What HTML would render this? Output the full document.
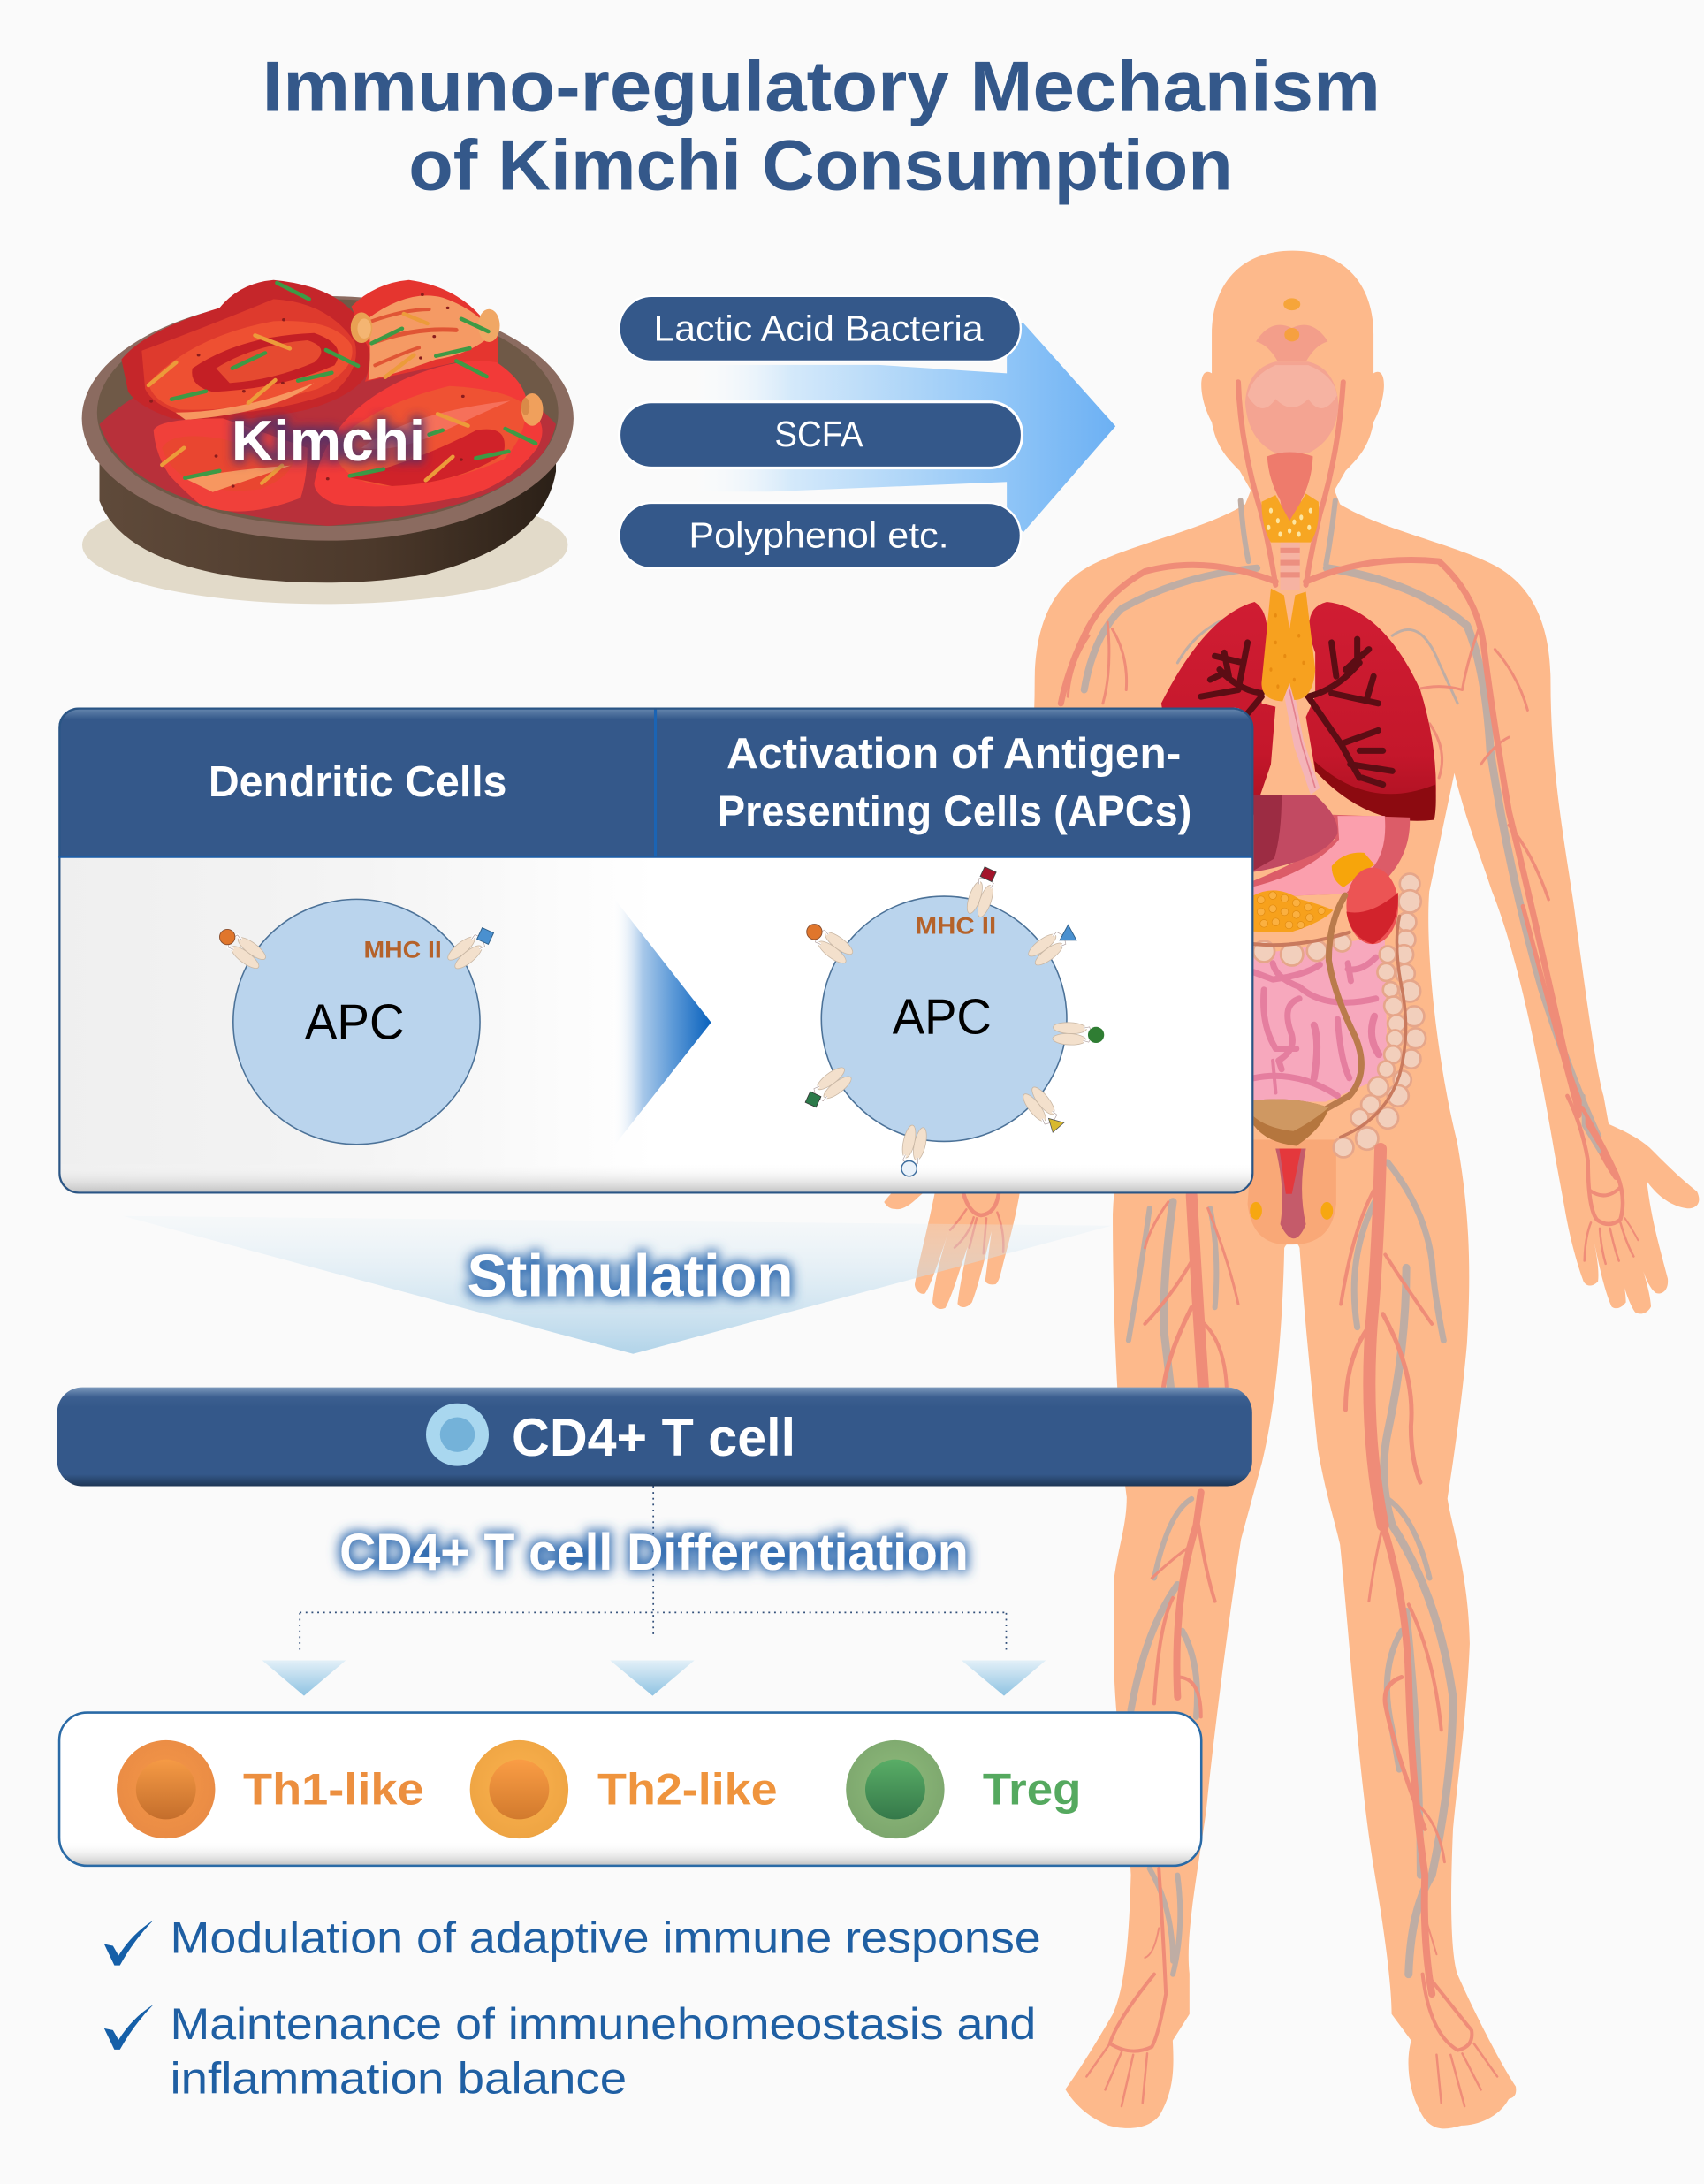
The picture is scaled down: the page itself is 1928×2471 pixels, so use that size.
<!DOCTYPE html>
<html><head><meta charset="utf-8"><title>Immuno-regulatory Mechanism of Kimchi Consumption</title>
<style>
html,body{margin:0;padding:0;background:#fafafa}
svg{display:block;width:1928px;height:2471px}
text{font-family:"Liberation Sans",sans-serif}
.b{font-weight:700}
.v path,.v line,.s path{fill:none;vector-effect:non-scaling-stroke;stroke-linecap:round;stroke-linejoin:round}
.r path{stroke:#ef8c78}.g path{stroke:#bfada4}
</style></head><body>
<svg xmlns="http://www.w3.org/2000/svg" viewBox="0 0 1222 1568" preserveAspectRatio="none">
<defs>
<linearGradient id="ar" x1="0" x2="1" y1="0" y2="0"><stop offset="0" stop-color="#fff" stop-opacity="0"/><stop offset=".25" stop-color="#d4e9fa"/><stop offset=".75" stop-color="#8fc5f7"/><stop offset="1" stop-color="#6cb0f3"/></linearGradient>
<linearGradient id="ar2" x1="0" x2="1" y1="0" y2="0"><stop offset="0" stop-color="#fff" stop-opacity="0"/><stop offset=".3" stop-color="#a9c9ea"/><stop offset=".6" stop-color="#5f9bd8"/><stop offset="1" stop-color="#0a62bd"/></linearGradient>
<linearGradient id="fan" x1="0" x2="0" y1="0" y2="1"><stop offset="0" stop-color="#e4f0f7" stop-opacity=".25"/><stop offset="1" stop-color="#a5cde6"/></linearGradient>
<linearGradient id="tri" x1="0" x2="0" y1="0" y2="1"><stop offset="0" stop-color="#e3f0f8"/><stop offset="1" stop-color="#8fc3e2"/></linearGradient>
<linearGradient id="lg" x1="0" x2="1" y1="0" y2="0"><stop offset="0" stop-color="#efefef"/><stop offset=".5" stop-color="#f4f4f4"/><stop offset="1" stop-color="#fff"/></linearGradient>
<linearGradient id="bar" x1="0" x2="0" y1="0" y2="1"><stop offset="0" stop-color="#7c99bc"/><stop offset=".1" stop-color="#3c5f90"/><stop offset=".2" stop-color="#34588a"/><stop offset=".88" stop-color="#34588a"/><stop offset="1" stop-color="#1e3655"/></linearGradient>
<linearGradient id="hd" x1="0" x2="0" y1="0" y2="1"><stop offset="0" stop-color="#6a8ab0"/><stop offset=".08" stop-color="#34588a"/><stop offset="1" stop-color="#34588a"/></linearGradient>
<linearGradient id="bot" x1="0" x2="0" y1="0" y2="1"><stop offset="0" stop-color="#fff" stop-opacity="0"/><stop offset="1" stop-color="#bdbdbd"/></linearGradient>
<linearGradient id="bowl" x1="0" x2="1" y1="0" y2="0"><stop offset="0" stop-color="#5f4a3a"/><stop offset=".6" stop-color="#4c392b"/><stop offset="1" stop-color="#2b2017"/></linearGradient>
<linearGradient id="lung" x1="0" x2="0" y1="0" y2="1"><stop offset="0" stop-color="#d01d33"/><stop offset=".7" stop-color="#c4172b"/><stop offset="1" stop-color="#a91020"/></linearGradient>
<radialGradient id="c1" cx=".5" cy=".45" r=".6"><stop offset="0" stop-color="#f59746"/><stop offset="1" stop-color="#e88a45"/></radialGradient>
<radialGradient id="c2" cx=".5" cy=".45" r=".6"><stop offset="0" stop-color="#fbb24e"/><stop offset="1" stop-color="#eda342"/></radialGradient>
<radialGradient id="c3" cx=".5" cy=".45" r=".6"><stop offset="0" stop-color="#8fbb7c"/><stop offset="1" stop-color="#7ba56c"/></radialGradient>
<linearGradient id="i1" x1="0" x2="0" y1="0" y2="1"><stop offset="0" stop-color="#f59a45"/><stop offset="1" stop-color="#c46e2c"/></linearGradient>
<linearGradient id="i2" x1="0" x2="0" y1="0" y2="1"><stop offset="0" stop-color="#fa9d45"/><stop offset="1" stop-color="#d27a2d"/></linearGradient>
<linearGradient id="i3" x1="0" x2="0" y1="0" y2="1"><stop offset="0" stop-color="#59ad66"/><stop offset="1" stop-color="#35794a"/></linearGradient>
<filter id="gk" x="-20%" y="-40%" width="140%" height="180%"><feMorphology in="SourceAlpha" operator="dilate" radius="2" result="m"/><feGaussianBlur in="m" stdDeviation="3.5" result="bl"/><feFlood flood-color="#43306e" flood-opacity=".85"/><feComposite in2="bl" operator="in" result="s"/><feMerge><feMergeNode in="s"/><feMergeNode in="SourceGraphic"/></feMerge></filter>
<filter id="gb" x="-10%" y="-50%" width="120%" height="200%"><feMorphology in="SourceAlpha" operator="dilate" radius="2" result="m"/><feGaussianBlur in="m" stdDeviation="4" result="bl"/><feFlood flood-color="#2f6bb0" flood-opacity="1"/><feComposite in2="bl" operator="in" result="s"/><feMerge><feMergeNode in="s"/><feMergeNode in="SourceGraphic"/></feMerge></filter>
<clipPath id="cb"><rect x="42" y="508" width="856" height="349" rx="14"/></clipPath>
<clipPath id="cl"><rect x="42.5" y="1229.5" width="819" height="110" rx="20"/></clipPath>
<g id="rcp"><ellipse cx="-4" cy="19" rx="4" ry="12" fill="#f3e0cc" stroke="#c9b7a4" stroke-width=".5"/><ellipse cx="4" cy="19" rx="4" ry="12" fill="#f3e0cc" stroke="#c9b7a4" stroke-width=".5"/><path d="M-4.5,9 L-5.5,5 L-1,3 M4.5,9 L5.5,5 L1,3" fill="none" stroke="#fff" stroke-width="2"/><path d="M-4.5,9 L-5.5,5 L-1,3 M4.5,9 L5.5,5 L1,3" fill="none" stroke="#a99" stroke-width=".4"/></g>
</defs>
<rect width="1222" height="1568" fill="#fafafa"/>

<!-- BODY -->
<path fill="#fdb98b" d="M927,180 C965,180 985,205 985,240 L985,268 C995,262 995,285 985,303 C982,320 975,328 965,338 L957,352 L961,362 C990,380 1040,390 1070,405 C1100,420 1112,450 1112,490 C1112,560 1125,620 1130,660 C1138,720 1145,770 1150,787 L1153.6,807 C1165,812 1175,817 1183,824 C1195,836 1205,846 1217,855.5 C1221,864 1216,868 1210,867.6 C1198,866 1188,858 1181,848 C1184,875 1190,895 1196,918 C1197,928 1190,930 1187,928 C1180,922 1176,905 1171.5,890 C1178,912 1183,925 1184,938 C1181,944 1175,944 1172.5,942 C1166,932 1162,915 1159,897 C1163,915 1166,925 1166,935 C1162,940 1158,940 1155.7,938 C1150,925 1146,905 1142,886 C1145,900 1147,912 1146,920 C1142,924 1138,924 1135.6,920 C1130,905 1125,885 1122,867 L1115,829 C1105,770 1090,690 1070,640 C1060,610 1050,585 1043,555 L1025,640 C1022,680 1030,760 1045,820 C1052,860 1056,900 1052,965 C1048,1010 1042,1050 1038,1076 C1042,1100 1053,1130 1054,1180 C1052,1230 1045,1280 1042,1313 C1040,1360 1040,1400 1045,1417 C1055,1440 1075,1480 1087,1498 C1088,1505 1085,1506 1082,1507 C1075,1520 1060,1526 1048,1526 C1035,1530 1025,1530 1018,1515 C1010,1500 1008,1480 1012,1465 L998,1446 C998,1420 990,1370 985,1340 C975,1280 968,1180 961,1109 C958,1095 950,1070 945,1040 C940,990 935,940 932,896 C930,890 924,890 921,896 C920,950 915,1010 905,1050 L890,1105 C880,1170 870,1250 865,1300 C858,1350 850,1390 853,1417 L853,1446 L841,1465 C842,1485 842,1500 832,1518 C825,1528 810,1530 795,1526 C780,1520 770,1510 764,1500 C775,1485 790,1460 798,1446 C808,1425 810,1380 811,1346 C808,1290 800,1240 799,1200 L799,1133 C802,1110 808,1095 808,1075 C802,1030 798,950 798,872 C800,810 825,760 830,680 L811,555 C804,585 794,610 784,640 C764,690 749,770 736,825 C733,845 732,852 731,858 C728,875 724,890 720.5,903 C718,912 717,920 714,922 C709,923 706,921 706.7,918 L711,884 C706,905 701,925 697,935 C693,940 688,939 686.7,936 C688,925 691,910 694,895 C688,912 683,930 678,939 C674,941 670,939 668.7,935 C670,920 675,900 680.3,884 C675,900 668,922 663.4,928.6 C660,930 656,926 656,922 C660,900 666,880 672,848 L659,859 C652,866 646,869 642,868 C638,868 636,866 634,863 C642,852 660,838 671,826 L700,807 C709,770 716,720 724,660 C729,620 742,560 742,490 C742,450 754,420 784,405 C814,390 864,380 893,362 L897,352 L889,338 C879,328 872,320 869,303 C859,285 859,262 869,268 L869,240 C869,205 889,180 927,180 Z"/>

<!-- upper body organs & vessels -->
<g transform="matrix(.3347,0,0,.4857,697.2,165)">
<g class="v g" stroke-width="6"><path d="M575,400 Q580,450 592,490"/><path d="M778,400 Q770,450 758,495"/><path d="M760,500 Q950,520 1060,585 Q1100,650 1110,770 Q1150,950 1220,1120 Q1280,1250 1340,1340" stroke-width="9"/><path d="M610,500 Q450,510 320,560 Q260,600 240,680" stroke-width="8"/><path d="M900,600 Q960,570 1000,640 L1040,700" stroke-width="3"/><path d="M440,640 Q480,590 560,570" stroke-width="3"/></g>
<g class="v r"><path d="M570,225 Q575,320 620,420 Q640,480 650,525" stroke-width="6"/><path d="M795,225 Q785,330 745,420 Q725,480 715,525" stroke-width="6"/><path d="M650,520 Q500,480 370,505 Q280,540 240,600 Q205,650 190,700" stroke-width="7"/><path d="M715,520 Q850,480 1000,490 Q1080,540 1095,610 Q1115,720 1150,860 Q1200,1000 1280,1250 Q1330,1350 1380,1400" stroke-width="7"/><path d="M290,580 Q300,650 280,700" stroke-width="3"/><path d="M250,600 Q210,640 205,690" stroke-width="3"/><path d="M300,590 Q335,630 330,680" stroke-width="3"/><path d="M1085,590 Q1060,640 1050,680 Q1000,670 950,680" stroke-width="3"/><path d="M1120,620 Q1170,660 1190,710" stroke-width="3"/><path d="M1090,790 Q1120,760 1150,750" stroke-width="3"/><path d="M1150,880 Q1200,920 1235,990" stroke-width="3.5"/><path d="M1180,1000 Q1230,1130 1300,1310" stroke-width="5"/><path d="M980,730 Q1020,770 1000,810" stroke-width="3"/></g>
<ellipse cx="685" cy="110" rx="18" ry="9" fill="#f6a53a"/>
<path d="M608,165 Q640,130 685,145 Q730,130 762,165 Q735,170 715,195 L655,195 Q635,170 608,165Z" fill="#f39e8a"/>
<ellipse cx="685" cy="155" rx="16" ry="10" fill="#f6a040"/>
<path d="M585,255 Q590,205 650,195 L720,195 Q780,205 785,260 Q780,310 720,330 L650,330 Q590,310 585,255Z" fill="#f4a492"/>
<path d="M590,245 Q620,280 650,250 Q685,275 720,250 Q750,280 782,245 Q775,215 720,200 L650,200 Q600,215 590,245Z" fill="#f6b3a2"/>
<path d="M632,335 Q680,322 730,335 Q728,370 705,400 L695,440 L670,440 L660,400 Q635,370 632,335Z" fill="#ee7b6c"/>
<rect x="660" y="462" width="42" height="70" fill="#f6b3a2"/>
<g fill="#ec8f80"><rect x="660" y="470" width="42" height="8"/><rect x="660" y="488" width="42" height="8"/><rect x="660" y="506" width="42" height="8"/></g>
<path d="M620,402 L650,392 L680,430 L715,390 L742,402 Q746,440 725,462 L640,462 Q620,440 620,402Z" fill="#f7a622"/>
<g fill="#fde5a0"><circle cx="640" cy="415" r="4"/><circle cx="655" cy="430" r="4"/><circle cx="635" cy="440" r="4"/><circle cx="660" cy="450" r="4"/><circle cx="680" cy="445" r="4"/><circle cx="700" cy="450" r="4"/><circle cx="705" cy="425" r="4"/><circle cx="725" cy="415" r="4"/><circle cx="722" cy="440" r="4"/><circle cx="690" cy="432" r="4"/></g>
<path d="M675,670 L700,760 L735,830" fill="none" stroke="#f4b4b8" stroke-width="22"/>
<path d="M680,680 L706,760 L735,825" fill="none" stroke="#e3808e" stroke-width="3"/>
<path d="M605,550 Q640,565 630,620 L620,700 L650,705 L640,790 L600,870 L420,760 L405,700 Q500,570 605,550Z" fill="url(#lung)"/>
<path d="M760,550 Q700,560 735,625 L735,690 L715,720 L735,800 Q850,880 990,872 Q1005,780 960,680 Q880,560 760,550Z" fill="url(#lung)"/>
<path d="M733,785 Q850,860 992,820 Q996,850 990,872 Q850,885 735,800Z" fill="#8c0a10"/>
<g class="s" stroke="#5c0d14"><path d="M620,685 Q570,680 530,650 M570,680 L490,690 M580,640 L520,630 M570,680 L590,610 M620,690 L560,740 M580,725 L580,770 M540,655 L510,665 M550,660 L540,625" stroke-width="7"/><path d="M720,690 Q780,680 830,640 M770,685 L870,700 M780,660 L770,610 M800,650 L850,620 M720,690 L790,760 L830,810 M790,760 L870,740 M810,790 L900,800 M835,810 L880,820 M825,640 L825,605 M845,695 L860,660 M830,770 L880,770" stroke-width="7"/></g>
<path d="M640,530 L668,540 L680,590 L692,540 L715,535 L735,650 Q730,695 690,695 L680,670 L665,697 Q620,695 620,670Z" fill="#f7a11f"/>
<g fill="#e88b10"><circle cx="650" cy="570" r="3"/><circle cx="650" cy="610" r="3"/><circle cx="640" cy="650" r="3"/><circle cx="670" cy="630" r="3"/><circle cx="700" cy="600" r="3"/><circle cx="710" cy="640" r="3"/><circle cx="690" cy="665" r="3"/><circle cx="655" cy="675" r="3"/></g>
<path d="M590,1440 Q600,1502 680,1500 Q770,1502 780,1440 L780,1345 L600,1345Z" fill="#f9a877"/>
<path d="M650,1358 L715,1358 Q698,1420 715,1470 Q690,1512 660,1470 Q672,1420 650,1358Z" fill="#c55b6a"/>
<path d="M658,1358 L705,1358 L685,1425 L672,1425Z" fill="#e4383c"/>
<circle cx="608" cy="1450" r="13" fill="#f7a711"/><circle cx="760" cy="1450" r="13" fill="#f7a711"/>
</g>

<!-- abdomen -->
<g transform="matrix(.2113,0,0,.2115,887.4,571)">
<path d="M55,290 Q200,230 330,150 L300,65 L585,75 Q590,200 500,290 L365,335 L55,345Z" fill="#dc5c68"/>
<path d="M55,310 Q250,260 345,150 L340,70 L500,70 Q510,190 455,250 L365,335 L55,345Z" fill="#fb9fad"/>
<path d="M55,260 L55,0 L265,0 Q345,70 340,130 Q310,190 200,225 Q120,250 55,260Z" fill="#c24a62"/>
<path d="M55,0 L150,0 Q150,130 125,215 L55,255Z" fill="#9c2c43"/>
<path d="M55,540 L500,480 L510,950 L300,1040 L55,1040Z" fill="#f7a8bd"/>
<g class="s" stroke="#e57e9f"><path d="M120,570 Q130,620 210,650 Q300,730 470,690" stroke-width="7"/><path d="M90,660 Q80,780 130,860 L200,860" stroke-width="7"/><path d="M210,690 Q150,710 180,800 Q205,860 140,900 L150,930" stroke-width="7"/><path d="M260,780 Q280,840 260,960" stroke-width="8"/><path d="M55,960 Q200,930 340,1020" stroke-width="7"/><path d="M375,570 L385,630 M375,590 Q420,600 470,550" stroke-width="7"/><path d="M465,750 Q440,820 480,880" stroke-width="8"/><path d="M340,760 Q350,900 380,960" stroke-width="7"/><path d="M55,600 L120,625 Q230,610 280,575" stroke-width="7"/><path d="M120,900 L130,1010" stroke-width="4"/></g>
<g fill="#f2cfbc" stroke="#e6a68a" stroke-width="8"><circle cx="90" cy="530" r="36"/><circle cx="185" cy="540" r="38"/><circle cx="270" cy="528" r="34"/><circle cx="355" cy="500" r="30"/>
<circle cx="585" cy="300" r="34"/><circle cx="585" cy="360" r="38"/><circle cx="575" cy="430" r="32"/><circle cx="572" cy="490" r="32"/><circle cx="565" cy="540" r="32"/><circle cx="510" cy="540" r="28"/><circle cx="505" cy="600" r="30"/><circle cx="570" cy="605" r="32"/><circle cx="520" cy="660" r="26"/><circle cx="585" cy="665" r="36"/><circle cx="530" cy="715" r="32"/><circle cx="600" cy="750" r="34"/><circle cx="540" cy="775" r="30"/><circle cx="605" cy="825" r="34"/><circle cx="535" cy="825" r="28"/><circle cx="528" cy="880" r="30"/><circle cx="590" cy="895" r="32"/><circle cx="505" cy="930" r="28"/><circle cx="560" cy="965" r="30"/><circle cx="545" cy="1020" r="36"/><circle cx="478" cy="990" r="34"/><circle cx="452" cy="1050" r="32"/><circle cx="510" cy="1095" r="36"/><circle cx="415" cy="1095" r="30"/><circle cx="440" cy="1165" r="38"/><circle cx="360" cy="1195" r="34"/></g>
<path d="M55,340 Q130,300 210,352 Q280,370 325,390 Q290,430 180,465 L55,462Z" fill="#f7a11c"/>
<g fill="#fbb040" stroke="#e08a10" stroke-width="2"><circle cx="80" cy="355" r="13"/><circle cx="120" cy="340" r="13"/><circle cx="160" cy="350" r="13"/><circle cx="200" cy="365" r="13"/><circle cx="240" cy="380" r="13"/><circle cx="285" cy="392" r="12"/><circle cx="80" cy="395" r="13"/><circle cx="120" cy="385" r="13"/><circle cx="160" cy="395" r="13"/><circle cx="200" cy="405" r="13"/><circle cx="245" cy="415" r="13"/><circle cx="90" cy="435" r="13"/><circle cx="130" cy="430" r="13"/><circle cx="175" cy="440" r="13"/><circle cx="215" cy="440" r="12"/></g>
<g class="s"><path d="M55,505 Q200,520 380,465" stroke="#c97a5e" stroke-width="4"/></g>
<path d="M320,240 Q360,190 430,195 L465,235 L360,312 Q320,290 320,240Z" fill="#f7a50b"/>
<ellipse cx="458" cy="375" rx="88" ry="130" fill="#ec5454"/>
<path d="M370,395 Q450,412 545,330 Q552,450 460,505 Q380,480 370,395Z" fill="#d2232c"/>
<g class="s"><path d="M365,340 Q310,430 310,560 Q330,680 400,820 Q450,940 380,1020 L300,1065" stroke="#ba7b4c" stroke-width="7"/><path d="M550,410 Q530,500 555,640 Q590,800 550,950 Q500,1100 350,1160" stroke="#c97a5e" stroke-width="3.5"/></g>
<path d="M55,1035 Q200,1020 310,1060 Q290,1130 200,1190 Q100,1180 55,1120Z" fill="#b5763e"/>
<path d="M55,1035 Q200,1020 310,1060 Q250,1110 190,1140 Q100,1130 55,1090Z" fill="#cf9862"/>
</g>

<!-- lower body vessels -->
<g transform="matrix(.3347,0,0,.474,697.2,824.9)">
<g class="v g"><path d="M430,80 Q410,180 410,270 Q420,330 425,360" stroke-width="9"/><path d="M380,90 Q360,190 335,290" stroke-width="6"/><path d="M510,90 Q530,160 520,240" stroke-width="6"/><path d="M470,530 Q420,550 390,650" stroke-width="6"/><path d="M440,660 Q370,730 340,850" stroke-width="8"/><path d="M450,730 Q490,780 480,860" stroke-width="7"/><path d="M380,1090 Q430,1150 430,1230" stroke-width="6"/><path d="M440,1100 Q455,1180 430,1250" stroke-width="6"/><path d="M930,180 Q930,300 890,430 Q870,500 900,570 Q1000,680 1030,830 Q1030,950 985,1100 Q940,1150 935,1250" stroke-width="9"/><path d="M870,70 Q800,160 825,270" stroke-width="7"/><path d="M890,20 Q970,90 985,170 Q990,220 1010,290" stroke-width="7"/><path d="M890,530 Q950,560 980,650" stroke-width="6"/><path d="M930,700 Q960,900 960,1100" stroke-width="8"/><path d="M920,730 Q870,790 900,880 L915,940" stroke-width="7"/></g>
<g class="v r"><path d="M470,70 Q480,200 495,360" stroke-width="13"/><path d="M490,520 L480,570 Q430,680 440,830" stroke-width="8"/><path d="M430,680 Q400,720 390,840" stroke-width="4"/><path d="M440,800 Q490,800 490,860" stroke-width="4"/><path d="M485,570 Q500,640 520,685" stroke-width="4"/><path d="M470,170 Q430,220 370,265" stroke-width="4"/><path d="M470,240 Q420,310 410,360" stroke-width="5"/><path d="M490,260 Q540,290 545,360" stroke-width="4"/><path d="M470,600 Q430,620 385,650" stroke-width="3"/><path d="M505,90 Q550,170 570,235" stroke-width="3"/><path d="M420,80 Q380,120 370,150" stroke-width="3"/><path d="M400,1090 Q410,1200 415,1280 Q400,1340 385,1360 Q340,1375 295,1355 Q310,1320 390,1250" stroke-width="4"/><path d="M370,1225 Q390,1220 400,1180" stroke-width="2"/><g stroke-width="2.5"><path d="M295,1355 L245,1405"/><path d="M320,1368 L285,1425"/><path d="M345,1372 L320,1450"/><path d="M375,1370 L365,1445"/></g>
<path d="M875,0 Q870,150 855,270 Q840,430 880,570" stroke-width="14"/><path d="M880,570 Q930,680 935,800 Q940,950 970,1100 Q965,1200 985,1280" stroke-width="8"/><path d="M880,40 Q820,100 790,235" stroke-width="4"/><path d="M885,160 Q930,210 985,265" stroke-width="4"/><path d="M860,260 Q800,310 800,395" stroke-width="5"/><path d="M880,250 Q950,340 940,420 Q940,470 960,505" stroke-width="5"/><path d="M880,570 Q860,630 850,685" stroke-width="3"/><path d="M935,690 Q990,770 1005,880" stroke-width="4"/><path d="M920,800 Q880,810 885,840 Q900,900 970,1030" stroke-width="5"/><path d="M950,990 Q1000,1020 1012,1080" stroke-width="3"/><path d="M965,1250 Q980,1340 1040,1365 Q1075,1360 1070,1335 Q1030,1300 985,1260" stroke-width="4"/><path d="M965,1150 L995,1220" stroke-width="2"/><g stroke-width="2.5"><path d="M1075,1355 L1125,1405"/><path d="M1050,1370 L1090,1425"/><path d="M1025,1372 L1055,1450"/><path d="M995,1372 L1005,1445"/></g></g>
</g>

<!-- hand vessels -->
<g transform="matrix(.2113,0,0,.2115,1109.2,786.8)" class="v"><g class="g"><path d="M125,0 L125,100 L180,190" stroke-width="4"/></g><g class="r"><path d="M70,0 Q120,100 140,220 Q140,380 170,420 Q210,450 250,420 Q270,350 240,270 Q200,180 120,40" stroke-width="4.5"/><path d="M145,320 Q200,360 250,310" stroke-width="4"/><path d="M150,430 Q130,480 128,560" stroke-width="2.5"/><path d="M180,450 Q185,520 200,570" stroke-width="2.5"/><path d="M215,450 Q230,520 245,560" stroke-width="2.5"/><path d="M250,430 Q270,500 295,545" stroke-width="2.5"/><path d="M265,415 Q290,450 310,490" stroke-width="2"/></g></g>
<g transform="matrix(.2113,0,0,.2115,627.5,850.3)" class="v r"><path d="M300,30 Q320,100 360,105 Q410,100 420,30" stroke-width="4.5"/><path d="M310,85 Q280,130 255,155" stroke-width="2.5"/><path d="M335,112 Q320,170 270,215" stroke-width="2.5"/><path d="M345,115 L320,215" stroke-width="2.5"/><path d="M378,115 L368,235" stroke-width="2.5"/><path d="M415,95 Q440,160 435,230" stroke-width="2.5"/></g>

<!-- TITLE -->
<text class="b" x="188" y="79.5" font-size="51" fill="#34588a" textLength="802" lengthAdjust="spacingAndGlyphs">Immuno-regulatory Mechanism</text>
<text class="b" x="293" y="136" font-size="51" fill="#34588a" textLength="591" lengthAdjust="spacingAndGlyphs">of Kimchi Consumption</text>

<!-- KIMCHI -->
<g transform="matrix(.2425,0,0,.2115,50.7,190.4)">
<ellipse cx="752" cy="950" rx="718" ry="200" fill="#e2dac9"/>
<path d="M85,640 L85,800 Q150,1000 500,1060 Q800,1100 1050,1050 Q1400,950 1435,700 L1435,640Z" fill="url(#bowl)"/>
<ellipse cx="760" cy="520" rx="727" ry="415" fill="#8b6b60"/>
<ellipse cx="760" cy="500" rx="682" ry="385" fill="#6f5947"/>
<path d="M85,540 Q300,300 760,280 Q1250,300 1435,540 Q1380,830 760,885 Q170,830 85,540Z" fill="#b8303a"/>
<path d="M150,320 Q220,220 440,145 Q500,60 600,50 Q780,70 850,180 Q900,270 880,360 Q850,440 700,490 Q500,540 300,520 Q200,480 170,430Z" fill="#c5262a"/>
<path d="M210,290 Q400,210 600,115 Q760,125 840,260 Q860,350 780,430 Q600,510 330,510 Q240,470 220,420Z" fill="#de3a2d"/>
<path d="M230,400 Q360,240 600,190 Q780,180 830,270 Q850,350 730,420 Q500,500 320,490 Q240,460 230,400Z" fill="#ee5032"/>
<path d="M360,350 Q500,240 720,230 Q820,270 780,340 Q620,420 420,430 Q350,410 360,350Z" fill="#c41f25"/>
<path d="M430,350 Q540,270 700,255 Q770,280 720,330 Q600,390 470,400Z" fill="#e64a30"/>
<path d="M310,500 Q500,500 720,400 Q610,500 340,525Z" fill="#f79760"/>
<path d="M830,140 Q900,60 1000,50 Q1130,70 1210,170 L1265,230 L1265,340 L1140,330 L870,395 Q900,300 870,260Z" fill="#e5352f"/>
<path d="M880,180 Q1000,80 1100,110 Q1200,150 1250,230 Q1190,300 1080,320 Q960,370 880,390 Q890,300 880,180Z" fill="#f59a64"/>
<g class="s" stroke="#e05535"><path d="M890,190 Q990,150 1060,150" stroke-width="4"/><path d="M900,260 Q1020,210 1140,220" stroke-width="5"/><path d="M900,340 Q1000,290 1030,280" stroke-width="4"/></g>
<path d="M720,740 Q760,500 1000,380 Q1150,310 1260,330 Q1350,400 1350,480 Q1420,540 1380,620 Q1300,740 1180,780 Q950,840 780,810 Q720,780 720,740Z" fill="#f23a38"/>
<path d="M770,610 Q900,470 1120,410 Q1280,420 1340,470 Q1360,560 1280,660 Q1120,740 960,750 Q800,750 770,610Z" fill="#ef5233"/>
<path d="M820,720 Q1000,680 1200,560 Q1300,540 1280,640 Q1150,740 950,750Z" fill="#d02229"/>
<path d="M860,620 Q1000,500 1300,460 Q1200,510 1090,570 Q950,640 860,620Z" fill="#f6705a"/>
<path d="M245,560 Q260,520 450,520 L700,620 Q700,720 680,790 Q500,870 380,810 Q320,750 290,710 Q250,640 245,560Z" fill="#f0403a"/>
<path d="M270,620 Q300,560 450,590 L660,660 Q650,720 560,760 Q420,780 340,720 Q290,690 270,620Z" fill="#e94630"/>
<path d="M340,725 Q500,690 650,680 Q520,730 420,770Z" fill="#f79760"/>
<ellipse cx="860" cy="212" rx="32" ry="52" fill="#e9a153"/><ellipse cx="868" cy="215" rx="20" ry="34" fill="#f4b572"/>
<ellipse cx="1237" cy="205" rx="32" ry="56" fill="#f0a765"/>
<ellipse cx="1365" cy="490" rx="32" ry="55" fill="#f0a05c"/><ellipse cx="1345" cy="480" rx="12" ry="30" fill="#d98a48"/>
<g class="s"><g stroke="#ec9b3a" stroke-width="4.5"><path d="M545,238 L648,283"/><path d="M230,408 L312,330"/><path d="M525,468 L605,390"/><path d="M930,380 L1015,305"/><path d="M985,165 L1055,198"/><path d="M1085,505 L1175,545"/><path d="M270,678 L335,620"/><path d="M565,740 L625,680"/><path d="M1050,730 L1130,650"/></g>
<g stroke="#3d9a45" stroke-width="4.5"><path d="M610,60 L705,115"/><path d="M890,265 L980,215"/><path d="M478,350 L575,298"/><path d="M755,288 L850,342"/><path d="M672,392 L772,365"/><path d="M298,455 L400,428"/><path d="M1080,308 L1180,282"/><path d="M1140,325 L1230,378"/><path d="M1155,182 L1235,225"/><path d="M1285,555 L1375,605"/><path d="M1198,655 L1295,632"/><path d="M338,722 L440,698"/><path d="M825,715 L925,692"/><path d="M1060,575 L1100,560"/></g></g>
<g fill="#8a1c1c"><circle cx="630" cy="185" r="5"/><circle cx="378" cy="305" r="5"/><circle cx="238" cy="462" r="5"/><circle cx="512" cy="428" r="5"/><circle cx="627" cy="400" r="5"/><circle cx="1040" cy="100" r="5"/><circle cx="1115" cy="145" r="5"/><circle cx="1075" cy="242" r="5"/><circle cx="1160" cy="445" r="5"/><circle cx="1035" cy="315" r="5"/><circle cx="760" cy="725" r="5"/><circle cx="480" cy="750" r="5"/><circle cx="430" cy="648" r="5"/><circle cx="1155" cy="660" r="5"/></g>
</g>
<text class="b" x="166" y="330.5" font-size="41" fill="#fff" textLength="139" lengthAdjust="spacingAndGlyphs" filter="url(#gk)">Kimchi</text>

<!-- Arrow + pills -->
<path d="M490,262 L630,262 L722,268 L722,232 L734,232 L800,306 L734,382 L722,372 L722,346 L552,353 L490,353Z" fill="url(#ar)"/>
<rect x="444" y="212.5" width="288" height="47" rx="23.5" fill="#34588a" stroke="#fff" stroke-width="1.5"/>
<rect x="444" y="288.5" width="289" height="47.5" rx="23.5" fill="#34588a" stroke="#fff" stroke-width="2"/>
<rect x="444" y="361" width="288" height="47" rx="23.5" fill="#34588a" stroke="#fff" stroke-width="1.5"/>
<text x="468.7" y="244.5" font-size="26" fill="#fff" textLength="236.5" lengthAdjust="spacingAndGlyphs">Lactic Acid Bacteria</text>
<text x="555.5" y="320.5" font-size="26" fill="#fff" textLength="63.5" lengthAdjust="spacingAndGlyphs">SCFA</text>
<text x="494" y="393" font-size="26" fill="#fff" textLength="186.5" lengthAdjust="spacingAndGlyphs">Polyphenol etc.</text>

<!-- Main table -->
<g clip-path="url(#cb)">
<rect x="42" y="508" width="856" height="349" fill="#fff"/>
<rect x="42" y="615" width="428" height="242" fill="url(#lg)"/>
<rect x="42" y="835" width="856" height="22" fill="url(#bot)"/>
<rect x="42" y="508" width="856" height="107.5" fill="url(#hd)"/>
<rect x="469" y="508" width="2" height="107.5" fill="#1b64b4"/>
</g>
<rect x="42.7" y="508.7" width="855.6" height="347.6" rx="14" fill="none" stroke="#2a5585" stroke-width="1.4"/>
<line x1="42" x2="898" y1="615.5" y2="615.5" stroke="#1c5ca5" stroke-width="1"/>
<text class="b" x="149.5" y="571.7" font-size="31" fill="#fff" textLength="214" lengthAdjust="spacingAndGlyphs">Dendritic Cells</text>
<text class="b" x="521" y="551.5" font-size="31" fill="#fff" textLength="326" lengthAdjust="spacingAndGlyphs">Activation of Antigen-</text>
<text class="b" x="514.6" y="593" font-size="31" fill="#fff" textLength="340" lengthAdjust="spacingAndGlyphs">Presenting Cells (APCs)</text>
<ellipse cx="255.7" cy="733.6" rx="88.5" ry="88" fill="#bad4ed" stroke="#4c7298" stroke-width="1"/>
<ellipse cx="677" cy="731.5" rx="88" ry="88" fill="#bad4ed" stroke="#4c7298" stroke-width="1"/>
<text x="218.6" y="746" font-size="36" fill="#000" textLength="71.4" lengthAdjust="spacingAndGlyphs">APC</text>
<text x="640" y="742" font-size="36" fill="#000" textLength="71" lengthAdjust="spacingAndGlyphs">APC</text>
<text class="b" x="260.8" y="687.5" font-size="17" fill="#b5622a" textLength="56" lengthAdjust="spacingAndGlyphs">MHC II</text>
<text class="b" x="656.4" y="670.4" font-size="17" fill="#b5622a" textLength="58" lengthAdjust="spacingAndGlyphs">MHC II</text>
<path d="M439.6,644 L510,734 L439.6,823.6Z" fill="url(#ar2)"/>
<use href="#rcp" transform="translate(163,672.7) rotate(-53)"/><circle cx="163" cy="672.7" r="5.5" fill="#e0762c" stroke="#8a5030" stroke-width=".6"/>
<use href="#rcp" transform="translate(348,672) rotate(50.5)"/><rect x="343.5" y="667.5" width="9" height="9" fill="#4a90cf" stroke="#2f5f8a" stroke-width=".6" transform="rotate(25 348 672)"/>
<use href="#rcp" transform="translate(709,627.7) rotate(19)"/><rect x="704.5" y="624" width="9" height="7.5" fill="#a3142a" stroke="#444" stroke-width=".6" transform="rotate(25 709 627)"/>
<use href="#rcp" transform="translate(584,669) rotate(-53)"/><circle cx="584" cy="669" r="5.5" fill="#e0762c" stroke="#8a5030" stroke-width=".6"/>
<use href="#rcp" transform="translate(765,670.4) rotate(53)"/><path d="M760,675 L766,664 L772,675Z" fill="#4a90cf" stroke="#2f5f8a" stroke-width=".6"/>
<use href="#rcp" transform="translate(786,743) rotate(92.7)"/><circle cx="786" cy="743" r="5.8" fill="#2f7d33"/>
<use href="#rcp" transform="translate(756.7,807.7) rotate(142)"/><path d="M752,803 L763,806 L755,813Z" fill="#d8b92e" stroke="#555" stroke-width=".5"/>
<use href="#rcp" transform="translate(651.7,839) rotate(-167.5)"/><circle cx="652" cy="839" r="5.5" fill="#eaf2fa" stroke="#3e6e9e" stroke-width=".9"/>
<use href="#rcp" transform="translate(583,789) rotate(-127)"/><rect x="579" y="785" width="8.5" height="8.5" fill="#2c7a4a" stroke="#333" stroke-width=".5" transform="rotate(25 583 789)"/>

<!-- Stimulation -->
<path d="M88,873 L797,880 L454,972Z" fill="url(#fan)" opacity=".85"/>
<text class="b" x="335" y="930.5" font-size="43" fill="#fff" textLength="234" lengthAdjust="spacingAndGlyphs" filter="url(#gb)">Stimulation</text>

<!-- CD4 bar -->
<rect x="41" y="996" width="857" height="71" rx="18" fill="url(#bar)"/>
<circle cx="328" cy="1030" r="22.5" fill="#a9d7ef"/><circle cx="328" cy="1030" r="12.5" fill="#74b2d9"/>
<text class="b" x="367" y="1045" font-size="38" fill="#fff" textLength="203.5" lengthAdjust="spacingAndGlyphs">CD4+ T cell</text>

<!-- dots -->
<g fill="none" stroke="#33507a" stroke-width="1.1" stroke-dasharray="1.2 3">
<path d="M468.5,1067 V1174"/><path d="M215,1157.7 H721.6"/><path d="M215,1158 V1185"/><path d="M721.6,1158 V1185"/>
</g>
<text class="b" x="243.5" y="1127" font-size="37" fill="#fff" textLength="451" lengthAdjust="spacingAndGlyphs" filter="url(#gb)">CD4+ T cell Differentiation</text>
<path d="M188,1192 L248,1192 L218,1217.5Z" fill="url(#tri)"/>
<path d="M437.5,1192 L498,1192 L468,1217.5Z" fill="url(#tri)"/>
<path d="M689.5,1192 L750,1192 L720,1217.5Z" fill="url(#tri)"/>

<!-- Result box -->
<rect x="42.5" y="1229.5" width="819" height="110" rx="20" fill="#fff"/>
<g clip-path="url(#cl)"><rect x="42" y="1322" width="820" height="18" fill="url(#bot)"/></g>
<rect x="42.5" y="1229.5" width="819" height="110" rx="20" fill="none" stroke="#2a6aa6" stroke-width="1.6"/>
<circle cx="119" cy="1284.7" r="35.3" fill="url(#c1)"/><circle cx="119" cy="1284.7" r="21.5" fill="url(#i1)"/>
<circle cx="372.3" cy="1284.7" r="35.3" fill="url(#c2)"/><circle cx="372.3" cy="1284.7" r="21.5" fill="url(#i2)"/>
<circle cx="642" cy="1284.7" r="35.3" fill="url(#c3)"/><circle cx="642" cy="1284.7" r="21.5" fill="url(#i3)"/>
<text class="b" x="174.3" y="1295.5" font-size="32" fill="#ec8f3f" textLength="129.7" lengthAdjust="spacingAndGlyphs">Th1-like</text>
<text class="b" x="428.5" y="1295.5" font-size="32" fill="#ef943d" textLength="129" lengthAdjust="spacingAndGlyphs">Th2-like</text>
<text class="b" x="704.7" y="1295.5" font-size="32" fill="#55a95f" textLength="70.7" lengthAdjust="spacingAndGlyphs">Treg</text>

<!-- Bullets -->
<path d="M74.7,1395.7 L81,1397 L85,1404 Q95,1388 110,1378.7 Q96,1393 86,1411 L82,1411Z" fill="#155fa8"/>
<path d="M74.7,1456.2 L81,1457.5 L85,1464.5 Q95,1448.5 110,1439.2 Q96,1453.5 86,1471.5 L82,1471.5Z" fill="#155fa8"/>
<text x="122" y="1402" font-size="32" fill="#1f5fa3" textLength="624.5" lengthAdjust="spacingAndGlyphs">Modulation of adaptive immune response</text>
<text x="122" y="1463.8" font-size="32" fill="#1f5fa3" textLength="621" lengthAdjust="spacingAndGlyphs">Maintenance of immunehomeostasis and</text>
<text x="122" y="1503" font-size="32" fill="#1f5fa3" textLength="327.5" lengthAdjust="spacingAndGlyphs">inflammation balance</text>
</svg>
</body></html>
